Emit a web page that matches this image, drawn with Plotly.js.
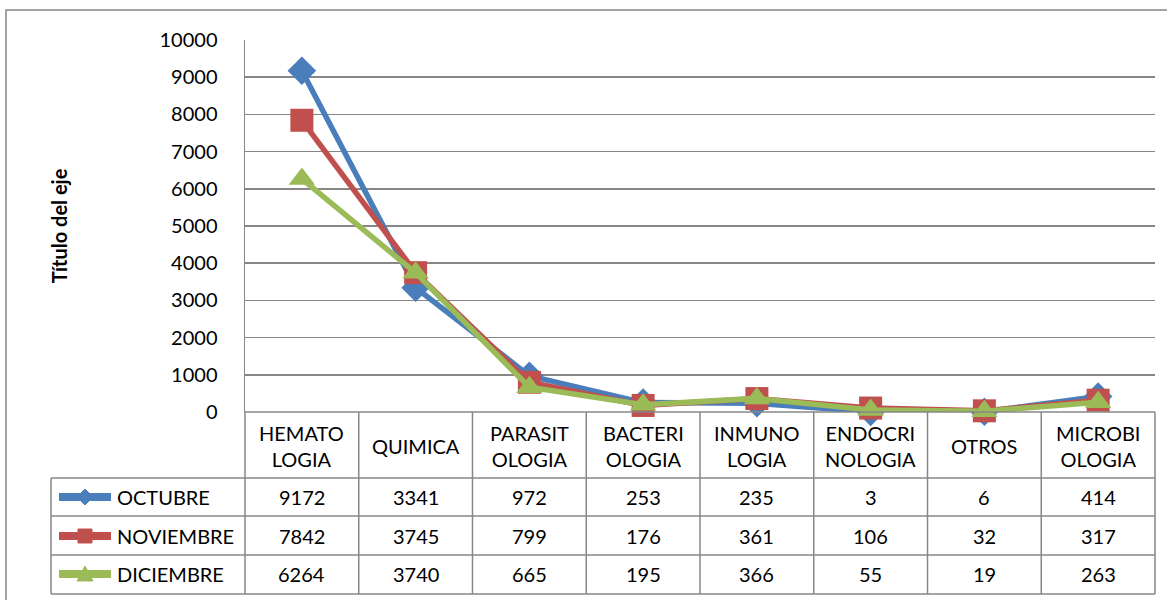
<!DOCTYPE html>
<html><head><meta charset="utf-8">
<script src="https://cdn.plot.ly/plotly-3.0.1.min.js"></script>
<style>body{margin:0;background:#fff}#c{width:1167px;height:600px}</style>
</head><body><div id="c"></div>
<script>
const categories = ["HEMATO<br>LOGIA","QUIMICA","PARASIT<br>OLOGIA","BACTERI<br>OLOGIA","INMUNO<br>LOGIA","ENDOCRI<br>NOLOGIA","OTROS","MICROBI<br>OLOGIA"];
const seriesNames = ["OCTUBRE","NOVIEMBRE","DICIEMBRE"];
const octubre = [9172,3341,972,253,235,3,6,414];
const noviembre = [7842,3745,799,176,361,106,32,317];
const diciembre = [6264,3740,665,195,366,55,19,263];
const yTicks = [0,1000,2000,3000,4000,5000,6000,7000,8000,9000,10000];

const seriesValues = [octubre, noviembre, diciembre];
const colors = ["#4a7ebb","#c0504d","#9bbb59"];
const symbols = ["diamond","square","triangle-up"];
const msizes = [22,23,23];

// layout geometry (pixels)
const L = 245, R = 1155, T = 40, B = 412;
const W = 1167, H = 600;
const px = x => (x - L) / (R - L);
const py = y => (B - y) / (B - T);

const xs = categories.map((_, i) => i);
const traces = seriesValues.map((vals, k) => ({
  type: "scatter", mode: "lines+markers", x: xs, y: vals, name: seriesNames[k],
  line: {color: colors[k], width: 5.5},
  marker: {symbol: symbols[k], size: msizes[k], color: colors[k]},
  cliponaxis: false, showlegend: false
}));

const gray = "#878787";
const shapes = [];
const annotations = [];
// outer border
shapes.push({type:"rect", xref:"paper", yref:"paper", x0:px(6), x1:px(1172), y0:py(10), y1:py(604), line:{color:gray, width:1.5}});
// table rows
const rowLines = [478, 516, 555, 594];
rowLines.forEach(y => shapes.push({type:"line", xref:"paper", yref:"paper", x0:px(51), x1:px(R), y0:py(y), y1:py(y), line:{color:gray, width:1.5}}));
// table columns
for (let i = 0; i <= categories.length; i++) {
  const xp = i / categories.length;
  shapes.push({type:"line", xref:"paper", yref:"paper", x0:xp, x1:xp, y0:py(B), y1:py(594), line:{color:gray, width:1.5}});
}
shapes.push({type:"line", xref:"paper", yref:"paper", x0:px(51), x1:px(51), y0:py(478), y1:py(594), line:{color:gray, width:1.5}});
shapes.push({type:"line", xref:"paper", yref:"paper", x0:0, x1:1, y0:0, y1:0, line:{color:gray, width:1.5}});

const fam = "Lato, 'Open Sans', sans-serif";
const font = {family:fam, size:20, color:"#000"};
// header
categories.forEach((c, i) => annotations.push({xref:"x", yref:"paper", x:i, y:py(446), text:c, showarrow:false, font:font, yanchor:"middle"}));
const rowCenters = [497, 536, 574];
function pathOf(k, cx, cy) {
  let pts;
  if (k === 0) pts = [[cx, cy-8],[cx+8, cy],[cx, cy+8],[cx-8, cy]];
  else if (k === 1) pts = [[cx-7, cy-7],[cx+7, cy-7],[cx+7, cy+7],[cx-7, cy+7]];
  else pts = [[cx, cy-8],[cx+8, cy+7],[cx-8, cy+7]];
  return "M" + pts.map(p => px(p[0]).toFixed(5) + "," + py(p[1]).toFixed(5)).join(" L") + " Z";
}
seriesValues.forEach((vals, k) => {
  vals.forEach((v, i) => annotations.push({xref:"x", yref:"paper", x:i, y:py(rowCenters[k]), text:String(v), showarrow:false, font:font, yanchor:"middle"}));
  // legend key
  const yc = rowCenters[k];
  shapes.push({type:"line", xref:"paper", yref:"paper", x0:px(59), x1:px(111), y0:py(yc), y1:py(yc), line:{color:colors[k], width:8}});
  shapes.push({type:"path", xref:"paper", yref:"paper", path:pathOf(k, 85, yc), fillcolor:colors[k], line:{color:colors[k], width:1}});
  annotations.push({xref:"paper", yref:"paper", x:px(115), y:py(yc), text:seriesNames[k], showarrow:false, font:font, xanchor:"left", yanchor:"middle"});
});

const layout = {
  width:W, height:H, paper_bgcolor:"#fff", plot_bgcolor:"#fff",
  margin:{l:L, r:W-R, t:T, b:H-B},
  showlegend:false,
  xaxis:{range:[-0.5, categories.length-0.5], showticklabels:false, showgrid:false, zeroline:false, showline:false, ticks:""},
  yaxis:{range:[0,10000], tickvals:yTicks, ticktext:yTicks.map(String), showgrid:true, gridcolor:gray, gridwidth:1.5,
    zeroline:false, showline:true, linecolor:gray, linewidth:1.5, ticks:"", ticklabelstandoff:22,
    tickfont:font, title:{text:"<b>Título del eje</b>", font:{family:fam, size:20, color:"#000"}, standoff:86}},
  shapes:shapes, annotations:annotations
};
Plotly.newPlot("c", traces, layout, {displayModeBar:false, staticPlot:true});
</script></body></html>
